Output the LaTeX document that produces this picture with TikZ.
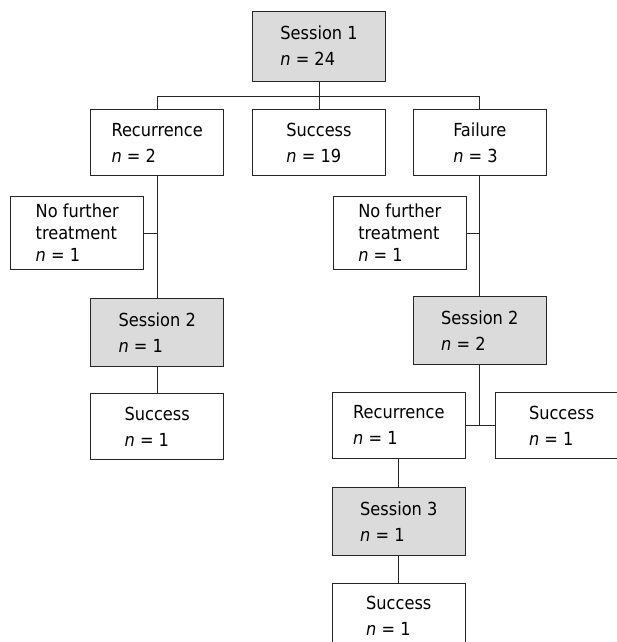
\documentclass[tikz,border=0pt]{standalone}
\usepackage{fontspec}
\setmainfont{DejaVu Sans Condensed}
\usetikzlibrary{positioning}
\newcommand{\nval}[1]{\textit{n} = #1}
\tikzset{
  box/.style={draw=black!85,line width=0.8pt,minimum width=133pt,
    minimum height=66pt,align=left,inner sep=4pt,
    font=\fontsize{18}{26}\selectfont},
  session/.style={box,fill=black!14,minimum height=68pt},
  nft/.style={box,minimum height=73pt,font=\fontsize{18}{22}\selectfont},
  link/.style={draw=black!85,line width=0.8pt}
}
\begin{document}
\begin{tikzpicture}[x=1pt,y=1pt]
  \useasboundingbox (0,0) rectangle (617,-642);
  \clip (0,0) rectangle (617,-642);

  % first session and its outcomes
  \node[session,minimum height=70pt] (s1) at (319,-46) {Session 1\\\nval{24}};
  \node[box,below=28pt of s1] (suc1) {Success\\\nval{19}};
  \node[box,left=28pt of suc1] (rec1) {Recurrence\\\nval{2}};
  \node[box,right=27pt of suc1] (fail) {Failure\\\nval{3}};
  \coordinate[below=15pt of s1.south] (bus);

  % recurrence branch
  \node[nft,below=20pt of rec1,xshift=-80pt] (nft1) {No further\\treatment\\\nval{1}};
  \node[session,below=122pt of rec1] (s2a) {Session 2\\\nval{1}};
  \node[box,below=26pt of s2a] (suc2) {Success\\\nval{1}};

  % failure branch
  \node[nft,below=20pt of fail,xshift=-80pt] (nft2) {No further\\treatment\\\nval{1}};
  \node[session,below=120pt of fail] (s2b) {Session 2\\\nval{2}};
  \node[box,below=27pt of s2b,xshift=-81pt] (rec2) {Recurrence\\\nval{1}};
  \node[box,right=29pt of rec2] (suc3) {Success\\\nval{1}};
  \node[session,below=28pt of rec2] (s3) {Session 3\\\nval{1}};
  \node[box,below=27pt of s3] (suc4) {Success\\\nval{1}};

  \draw[link] (s1) -- (suc1);
  \draw[link] (rec1.north) |- (bus) -| (fail.north);
  \draw[link] (rec1) -- (s2a);
  \draw[link] (nft1.east) -- (nft1.east -| rec1.south);
  \draw[link] (s2a) -- (suc2);
  \draw[link] (fail) -- (s2b);
  \draw[link] (nft2.east) -- (nft2.east -| fail.south);
  \draw[link] (s2b.south) -- (s2b.south |- rec2.east);
  \draw[link] (rec2.east) -- (suc3.west);
  \draw[link] (rec2) -- (s3);
  \draw[link] (s3) -- (suc4);
\end{tikzpicture}
\end{document}
